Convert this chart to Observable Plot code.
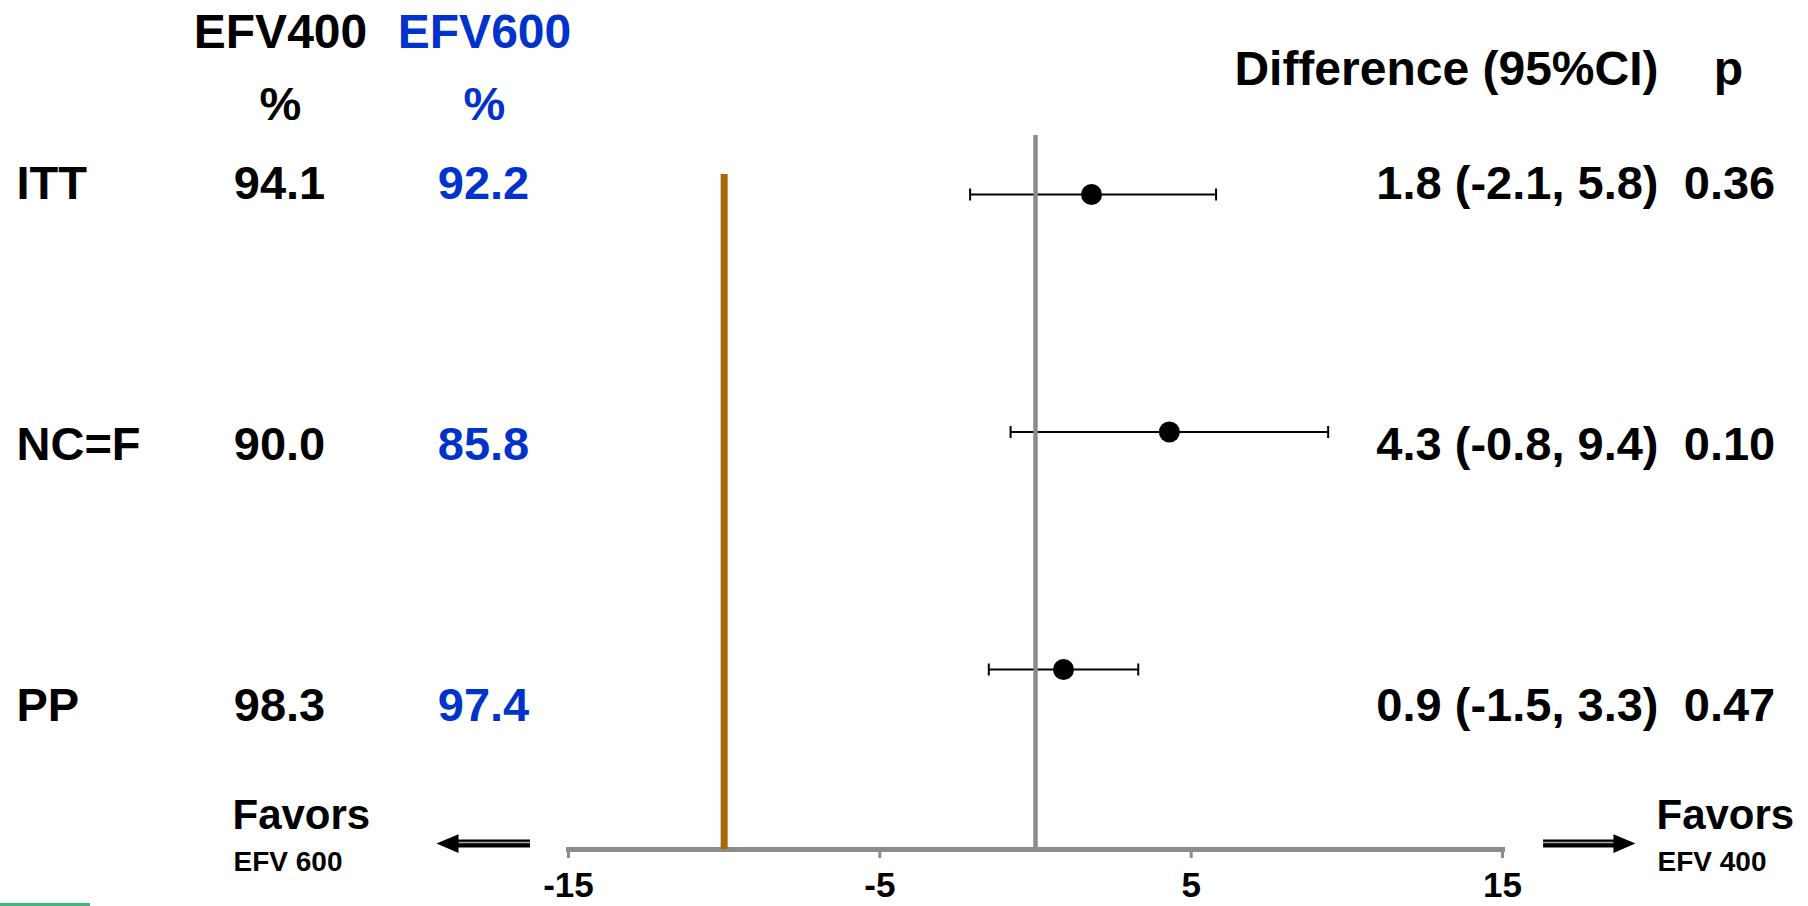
<!DOCTYPE html>
<html>
<head>
<meta charset="utf-8">
<script src="https://cdn.jsdelivr.net/npm/d3@7"></script>
<script src="https://cdn.jsdelivr.net/npm/@observablehq/plot@0.6"></script>
<style>
html, body { margin: 0; padding: 0; background: #fff; overflow: hidden; }
#chart { position: relative; width: 1808px; height: 906px; font-family: "Liberation Sans", Arial, sans-serif; }
#chart svg { position: absolute; left: 0; top: 0; }
#accent { position: absolute; left: 0; top: 903px; width: 90px; height: 3px; background: #3cb878; }
</style>
</head>
<body>
<div id="chart"><div id="accent"></div></div>
<script>
// ---- data ----
const groups = ["ITT", "NC=F", "PP"];
const efv400 = [94.1, 90.0, 98.3];
const efv600 = [92.2, 85.8, 97.4];
const difference = [1.8, 4.3, 0.9];
const ciLow = [-2.1, -0.8, -1.5];
const ciHigh = [5.8, 9.4, 3.3];
const pValues = [0.36, 0.10, 0.47];
const xDomain = [-15, 15];
const xTicks = [-15, -5, 5, 15];
const nonInferiorityMargin = -10;

// ---- layout / style constants ----
const W = 1808, H = 906;
const FONT = "Liberation Sans, Arial, sans-serif";
const BLUE = "#0033cc";
const GRAY = "#8c8c8c";
const ORANGE = "#a66a08";
const arrowRow = 2.733;
const arrows = [
  {tip: -19.24, tail: -16.22, dir: -1},
  {tip: 19.27, tail: 16.32, dir: 1}
];

const rows = groups.map((g, i) => ({
  group: g, i,
  a: efv400[i].toFixed(1),
  b: efv600[i].toFixed(1),
  est: difference[i], lo: ciLow[i], hi: ciHigh[i],
  diffText: `${difference[i].toFixed(1)} (${ciLow[i].toFixed(1)}, ${ciHigh[i].toFixed(1)})`,
  pText: pValues[i].toFixed(2)
}));
const caps = rows.flatMap(r => [{x: r.lo, i: r.i}, {x: r.hi, i: r.i}]);

// ---- table (text) layer ----
const bold = {fontWeight: "bold", fontFamily: FONT};
const FS = 47;
function label(str, dx, dy, size, anchor, color = "black") {
  return Plot.text([str], {text: d => d, frameAnchor: "top-left", dx, dy, lineAnchor: "middle",
    textAnchor: anchor, fontSize: size, fill: color, ...bold});
}
const table = Plot.plot({
  width: W, height: H, margin: 0,
  style: {background: "transparent", fontFamily: FONT},
  y: {type: "point", domain: groups, range: [183, 705], padding: 0, axis: null},
  marks: [
    label("EFV400", 280, 32, 48, "middle"),
    label("EFV600", 484, 32, 48, "middle", BLUE),
    label("%", 280, 104, FS, "middle"),
    label("%", 484, 104, FS, "middle", BLUE),
    label("Difference (95%CI)", 1658, 69, 48, "end"),
    label("p", 1728, 69, 48, "middle"),
    Plot.text(rows, {y: "group", text: "group", frameAnchor: "left", dx: 16, textAnchor: "start", fontSize: FS, ...bold}),
    Plot.text(rows, {y: "group", text: "a", frameAnchor: "left", dx: 279, textAnchor: "middle", fontSize: FS, ...bold}),
    Plot.text(rows, {y: "group", text: "b", frameAnchor: "left", dx: 483, textAnchor: "middle", fontSize: FS, fill: BLUE, ...bold}),
    Plot.text(rows, {y: "group", text: "diffText", frameAnchor: "left", dx: 1658, textAnchor: "end", fontSize: FS, ...bold}),
    Plot.text(rows, {y: "group", text: "pText", frameAnchor: "left", dx: 1729, textAnchor: "middle", fontSize: FS, ...bold}),
    label("Favors", 232, 815, 42, "start"),
    label("EFV 600", 233, 862, 28, "start"),
    label("Favors", 1656, 815, 42, "start"),
    label("EFV 400", 1657, 862, 28, "start")
  ]
});

// ---- forest layer ----
const vbar = {draw(ctx, size) { const h = Math.sqrt(size / Math.PI); ctx.moveTo(0, -h); ctx.lineTo(0, h); }};
const head = {draw(ctx, size) { const r = Math.sqrt(size / Math.PI); ctx.moveTo(0, 0); ctx.lineTo(-2 * r, -0.85 * r); ctx.lineTo(-2 * r, 0.85 * r); ctx.closePath(); }};

const forest = Plot.plot({
  width: W, height: H,
  marginLeft: 568, marginRight: 306, marginTop: 135, marginBottom: 57,
  style: {background: "transparent", fontFamily: FONT},
  x: {domain: xDomain},
  y: {domain: [0, 2], range: [194, 669], axis: null},
  marks: [
    Plot.frame({anchor: "bottom", stroke: GRAY, strokeWidth: 5}),
    Plot.axisX(xTicks, {anchor: "bottom", tickSize: 9, tickPadding: 14, stroke: GRAY, strokeWidth: 3,
      fill: "black", fontSize: 35, fontWeight: "bold", tickFormat: d => String(d), label: null}),
    Plot.ruleY(rows, {y: "i", x1: "lo", x2: "hi", stroke: "black", strokeWidth: 2}),
    Plot.dot(caps, {x: "x", y: "i", symbol: vbar, r: 6, stroke: "black", strokeWidth: 2, fill: "none"}),
    Plot.ruleX([0], {stroke: GRAY, strokeWidth: 4.5}),
    Plot.ruleX([nonInferiorityMargin], {stroke: ORANGE, strokeWidth: 7, insetTop: 39}),
    Plot.dot(rows, {x: "est", y: "i", r: 10.5, fill: "black", stroke: "none"}),
    Plot.ruleY(arrows, {y: () => arrowRow, x1: "tail", x2: d => d.tip - d.dir * 0.45, stroke: "black", strokeWidth: 8}),
    Plot.ruleY(arrows, {y: () => arrowRow, x1: "tail", x2: d => d.tip - d.dir * 0.45, stroke: "#a8a8a8", strokeWidth: 1.5, dy: -1}),
    Plot.dot(arrows, {x: "tip", y: () => arrowRow, symbol: head, r: 11, rotate: d => d.dir < 0 ? 180 : 0, fill: "black", stroke: "none"})
  ]
});

const chart = document.getElementById("chart");
chart.appendChild(table);
chart.appendChild(forest);
</script>
</body>
</html>
